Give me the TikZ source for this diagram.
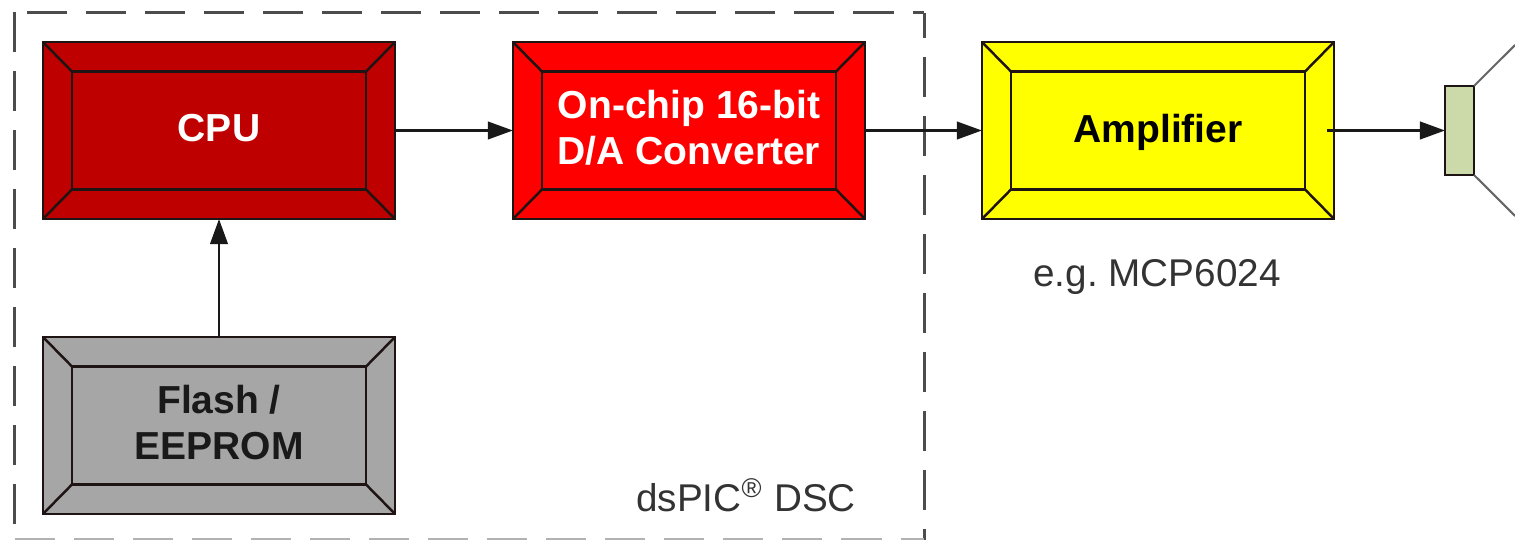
\documentclass[tikz,border=0pt]{standalone}
\usepackage{fontspec}
\setmainfont{Liberation Sans}
\usetikzlibrary{arrows.meta}

\definecolor{cpured}{RGB}{191,0,0}
\definecolor{dacred}{RGB}{255,0,0}
\definecolor{ampyellow}{RGB}{255,255,0}
\definecolor{flashgray}{RGB}{166,166,166}
\definecolor{spkgreen}{RGB}{204,217,168}
\definecolor{edgedark}{RGB}{30,20,20}

\tikzset{
  outerbox/.style={draw=edgedark,line width=0.7pt,minimum width=3.52cm,minimum height=1.77cm,inner sep=0pt,outer sep=0pt},
  innerbox/.style={draw=edgedark,line width=0.7pt,minimum width=2.94cm,minimum height=1.18cm,inner sep=0pt,outer sep=0pt},
  boxlabel/.style={inner sep=0pt,align=center,font=\fontsize{11.1}{13.1}\selectfont\bfseries},
  link/.style={draw=black!90,line width=0.7pt,-{Triangle[length=2.5mm,width=1.75mm]}},
  dashline/.style={draw=black!70,line width=0.85pt,dash pattern=on 0.4cm off 0.19cm},
  note/.style={inner sep=0pt,text=black!80,font=\fontsize{11}{13}\selectfont}
}

\begin{document}
\frenchspacing
\begin{tikzpicture}[x=0.01cm,y=-0.01cm]
  \useasboundingbox (0,0) rectangle (1515,540);

  % dsPIC border
  \draw[dashline] (27,13) -- (924,13);
  \draw[dashline] (14.5,12) -- (14.5,540);
  \draw[dashline,dash phase=0.15cm] (924,13) -- (924,540);
  \draw[dashline,draw=black!30] (15,539.5) -- (924,539.5);

  % Bevelled blocks
  \foreach \nm/\cx/\cy/\dy/\col/\tcol/\lbl in {
      cpu/219/130.5/-2/cpured/white/{CPU},
      dac/689/130.5/-2.5/dacred/white/{On-chip 16-bit\\D/A Converter},
      amp/1158/130.5/2/ampyellow/black/{Amplifier},
      flash/219/425.5/-3/flashgray/black!90/{Flash /\\EEPROM}} {
    \node[outerbox,fill=\col] (\nm) at (\cx,\cy) {};
    \node[innerbox,fill=\col] (\nm in) at (\cx,\cy) {};
    \foreach \cn in {north west,north east,south west,south east}
      \draw[draw=edgedark,line width=0.7pt] (\nm.\cn) -- (\nm in.\cn);
    \node[boxlabel,text=\tcol] (\nm text) at (\cx,{\cy+\dy}) {\lbl};
  }

  % Speaker
  \node[draw=edgedark,fill=spkgreen,line width=0.7pt,minimum width=0.29cm,minimum height=0.89cm,inner sep=0pt,outer sep=0pt] (spk) at (1459.5,130.5) {};
  \coordinate (coneup) at (1515,45);
  \coordinate (conedown) at (1515,216);
  \draw[draw=black!60,line width=0.6pt] (spk.north east) -- (coneup);
  \draw[draw=black!60,line width=0.6pt] (spk.south east) -- (conedown);

  % Signal path
  \draw[link] (cpu.east) -- (dac.west);
  \draw[link] (dac.east) -- (amp.west);
  \draw[link] ([xshift=-0.07cm]amp.east) -- (spk.west);
  \draw[link] (flash.north) -- (cpu.south);

  % Labels
  \node[note] (ampnote) at (1157,277) {e.g. MCP6024};
  \node[note] (dspic) at (746,495) {dsPIC\textsuperscript{\textregistered} DSC};
\end{tikzpicture}
\end{document}
